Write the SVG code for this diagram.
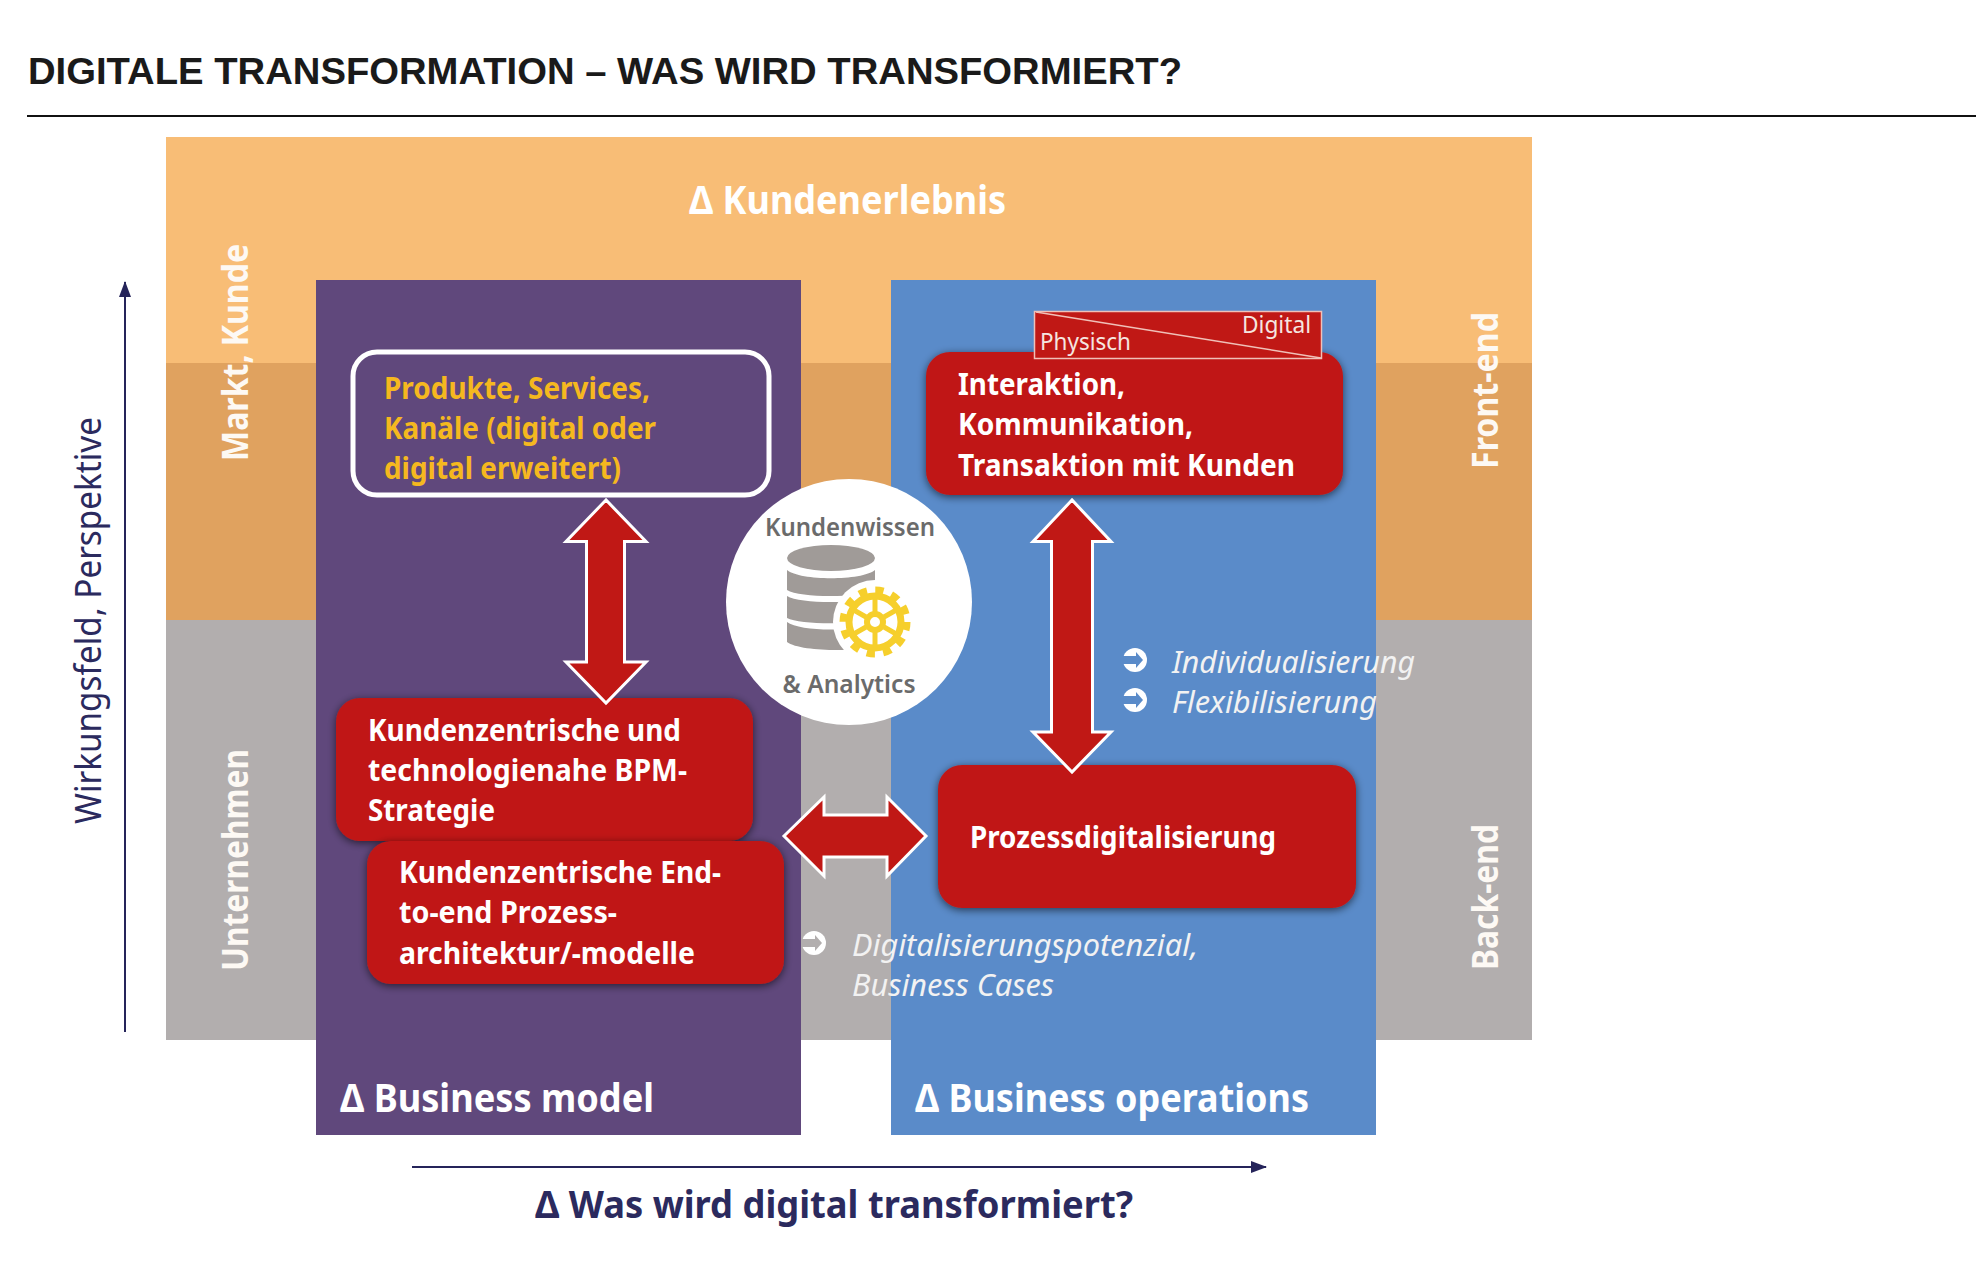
<svg xmlns="http://www.w3.org/2000/svg" width="1984" height="1273" viewBox="0 0 1984 1273">
<defs>
<style>
text{font-family:"Noto Sans","Open Sans","DejaVu Sans",sans-serif;}
.w{fill:#fff;font-weight:700;font-size:31px;}
.b{font-weight:700;font-size:40px;}
.i{fill:#f2f2f2;font-style:italic;font-size:30px;}
.s{fill:#fdf9f4;font-weight:700;font-size:36px;}
.box{fill:#c01815;filter:url(#sh);}
.dbl{fill:#c01815;stroke:#fff;stroke-width:3;stroke-miterlimit:3;}
.db{fill:#a09b98;}
</style>
<filter id="sh" x="-10%" y="-10%" width="120%" height="120%"><feGaussianBlur in="SourceAlpha" stdDeviation="4"/><feOffset dy="2"/><feComponentTransfer><feFuncA type="linear" slope="0.6"/></feComponentTransfer><feMerge><feMergeNode/><feMergeNode in="SourceGraphic"/></feMerge></filter>
<marker id="ah" markerWidth="16" markerHeight="12" refX="15" refY="6" orient="auto" markerUnits="userSpaceOnUse"><path d="M0 0L16 6L0 12Z" fill="#25245a"/></marker>
<g id="pt-blue"><circle r="12" fill="#fff"/><path d="M-13-4H1V-8L8 0L1 8V4H-13Z" fill="#5a8bc9"/></g>
<g id="pt-gray"><circle r="12" fill="#fff"/><path d="M-13-4H1V-8L8 0L1 8V4H-13Z" fill="#b2aeae"/></g>
</defs>
<rect width="1984" height="1273" fill="#fff"/>
<g id="title">
<text x="28" y="84" style="font-family:'Liberation Sans',Arial,sans-serif;font-weight:700;font-size:36.500px;fill:#1a1a1a" textLength="1154" lengthAdjust="spacingAndGlyphs">DIGITALE TRANSFORMATION – WAS WIRD TRANSFORMIERT?</text>
<rect x="27" y="115" width="1949" height="2" fill="#111"/>
</g>
<g id="bands">
<rect x="166" y="137" width="1366" height="226" fill="#f8bd76"/>
<rect x="166" y="363" width="1366" height="257" fill="#e0a25f"/>
<rect x="166" y="620" width="1366" height="420" fill="#b2aeae"/>
</g>
<g id="band-labels">
<text class="b" x="689" y="214" fill="#fff" textLength="317" lengthAdjust="spacingAndGlyphs">Δ Kundenerlebnis</text>
<text class="s" transform="translate(248 461) rotate(-90)" textLength="217" lengthAdjust="spacingAndGlyphs">Markt, Kunde</text>
<text class="s" transform="translate(248 971) rotate(-90)" textLength="222" lengthAdjust="spacingAndGlyphs">Unternehmen</text>
<text class="s" transform="translate(1498 469) rotate(-90)" textLength="157" lengthAdjust="spacingAndGlyphs">Front-end</text>
<text class="s" transform="translate(1498 970) rotate(-90)" textLength="146" lengthAdjust="spacingAndGlyphs">Back-end</text>
</g>
<g id="axis-y">
<text transform="translate(101 824) rotate(-90)" font-size="36" fill="#2b2a5e" textLength="407" lengthAdjust="spacingAndGlyphs">Wirkungsfeld, Perspektive</text>
</g>
<g id="col-model">
<rect x="316" y="280" width="485" height="855" fill="#60487c"/>
<text class="b" x="340" y="1112" fill="#fff" textLength="314" lengthAdjust="spacingAndGlyphs">Δ Business model</text>
</g>
<g id="col-ops">
<rect x="891" y="280" width="485" height="855" fill="#5a8bc9"/>
<text class="b" x="915" y="1112" fill="#fff" textLength="394" lengthAdjust="spacingAndGlyphs">Δ Business operations</text>
</g>
<g id="products">
<rect x="353" y="352" width="416" height="143" rx="24" fill="none" stroke="#fff" stroke-width="5"/>
<g fill="#f5b81f" font-weight="700" font-size="31">
<text x="384" y="399" textLength="266" lengthAdjust="spacingAndGlyphs">Produkte, Services,</text>
<text x="384" y="439" textLength="272" lengthAdjust="spacingAndGlyphs">Kanäle (digital oder</text>
<text x="384" y="479" textLength="237" lengthAdjust="spacingAndGlyphs">digital erweitert)</text>
</g>
</g>
<g id="strategy">
<rect class="box" x="336" y="698" width="417" height="143" rx="24"/>
<text class="w" x="368" y="741" textLength="313" lengthAdjust="spacingAndGlyphs">Kundenzentrische und</text>
<text class="w" x="368" y="781" textLength="319" lengthAdjust="spacingAndGlyphs">technologienahe BPM-</text>
<text class="w" x="368" y="821" textLength="127" lengthAdjust="spacingAndGlyphs">Strategie</text>
</g>
<g id="architecture">
<rect class="box" x="367" y="841" width="417" height="143" rx="24"/>
<text class="w" x="399" y="883" textLength="322" lengthAdjust="spacingAndGlyphs">Kundenzentrische End-</text>
<text class="w" x="399" y="923" textLength="218" lengthAdjust="spacingAndGlyphs">to-end Prozess-</text>
<text class="w" x="399" y="964" textLength="296" lengthAdjust="spacingAndGlyphs">architektur/-modelle</text>
</g>
<g id="knowledge">
<circle cx="849" cy="602" r="123" fill="#fff"/>
<text x="850" y="536" text-anchor="middle" font-size="25" font-weight="600" fill="#6b6b6b" textLength="170" lengthAdjust="spacingAndGlyphs">Kundenwissen</text>
<text x="849" y="693" text-anchor="middle" font-size="25" font-weight="600" fill="#6b6b6b" textLength="133" lengthAdjust="spacingAndGlyphs">&amp; Analytics</text>
<ellipse class="db" cx="831" cy="558" rx="44" ry="13"/>
<path class="db" d="M787 570C800 581 862 581 875 570V590C860 598 800 598 787 590Z"/>
<path class="db" d="M787 596C800 604 860 604 875 596V618C860 625 800 625 787 618Z"/>
<path class="db" d="M787 622C800 632 860 632 875 622V646C860 652 800 652 787 642Z"/>
<circle cx="875" cy="622" r="42" fill="#fff"/>
<circle cx="875" cy="622" r="26" fill="none" stroke="#f6cf2c" stroke-width="7"/>
<circle cx="875" cy="622" r="32" fill="none" stroke="#f6cf2c" stroke-width="7" stroke-dasharray="8.380 8.380"/>
<circle cx="875" cy="622" r="8" fill="none" stroke="#f6cf2c" stroke-width="6"/>
<path d="M875 612V596M875 632V648M866 617L852 609M884 617L898 609M866 627L852 635M884 627L898 635" stroke="#f6cf2c" stroke-width="5"/>
</g>
<g id="interaction">
<rect class="box" x="926" y="352" width="417" height="143" rx="24"/>
<text class="w" x="958" y="395" textLength="167" lengthAdjust="spacingAndGlyphs">Interaktion,</text>
<text class="w" x="958" y="435" textLength="235" lengthAdjust="spacingAndGlyphs">Kommunikation,</text>
<text class="w" x="958" y="476" textLength="337" lengthAdjust="spacingAndGlyphs">Transaktion mit Kunden</text>
</g>
<g id="physical-digital">
<rect x="1034.500" y="311.500" width="287" height="47" fill="#c01815" stroke="#f0c0b8" stroke-width="1.500"/>
<path d="M1036 312L1321 358" stroke="#f0c0b8" stroke-width="1.500"/>
<text x="1040" y="350" font-size="24" fill="#f5e6e0" textLength="91" lengthAdjust="spacingAndGlyphs">Physisch</text>
<text x="1242" y="333" font-size="24" fill="#f5e6e0" textLength="69" lengthAdjust="spacingAndGlyphs">Digital</text>
</g>
<g id="process">
<rect class="box" x="938" y="765" width="418" height="143" rx="24"/>
<text class="w" x="970" y="848" textLength="306" lengthAdjust="spacingAndGlyphs">Prozessdigitalisierung</text>
</g>
<g id="connectors" fill="none">
<path d="M125 1032V282" stroke="#25245a" stroke-width="2" marker-end="url(#ah)"/>
<path d="M412 1167H1266" stroke="#25245a" stroke-width="2" marker-end="url(#ah)"/>
<path class="dbl" d="M606 500L566 541.500H586.500V662H566L606 703L646 662H624.500V541.500H646Z"/>
<path class="dbl" d="M1072 500L1033 541.500H1051.500V732H1033L1072 772L1111 732H1092.500V541.500H1111Z"/>
<path class="dbl" d="M784 836L824 797V815H887V797L926 836L887 876V857H824V876Z" stroke-width="2.500"/>
</g>
<g id="notes">
<use href="#pt-blue" x="1135" y="660"/>
<text class="i" x="1172" y="673" textLength="243" lengthAdjust="spacingAndGlyphs">Individualisierung</text>
<use href="#pt-blue" x="1135" y="700"/>
<text class="i" x="1172" y="713" textLength="205" lengthAdjust="spacingAndGlyphs">Flexibilisierung</text>
<use href="#pt-gray" x="814" y="943"/>
<text class="i" x="852" y="956" textLength="346" lengthAdjust="spacingAndGlyphs">Digitalisierungspotenzial,</text>
<text class="i" x="852" y="996" textLength="202" lengthAdjust="spacingAndGlyphs">Business Cases</text>
</g>
<g id="axis-x">
<text x="535" y="1218" font-size="38" font-weight="700" fill="#2b2a5e" textLength="598" lengthAdjust="spacingAndGlyphs">Δ Was wird digital transformiert?</text>
</g>
</svg>
